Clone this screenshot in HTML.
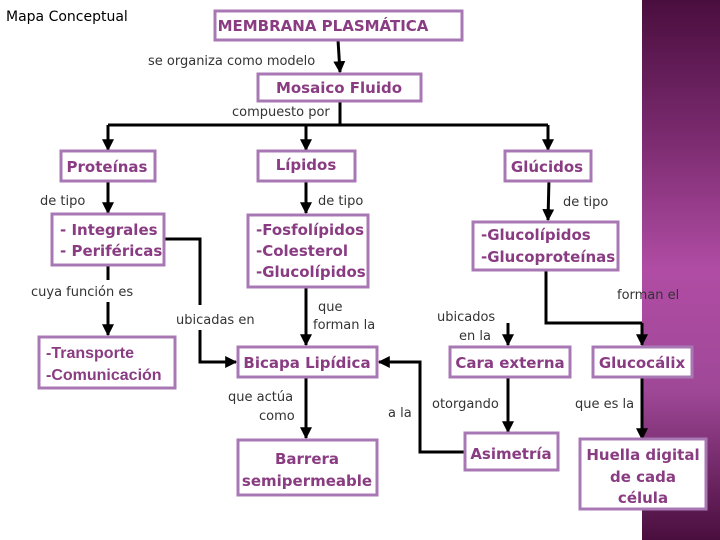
<!DOCTYPE html>
<html><head><meta charset="utf-8"><style>
html,body{margin:0;padding:0;width:720px;height:540px;overflow:hidden;background:#fff}
svg{display:block}
.b{fill:#fff;stroke:#a878b4;stroke-width:3}
.t{font-family:"DejaVu Sans","Liberation Sans",sans-serif;font-weight:bold;fill:#8a3c82;font-size:15px;text-anchor:middle}
.tl{font-family:"DejaVu Sans","Liberation Sans",sans-serif;font-weight:bold;fill:#8a3c82;font-size:15px}
.l{font-family:"DejaVu Sans","Liberation Sans",sans-serif;fill:#333;font-size:13px}
.ln{stroke:#000;stroke-width:3;fill:none}
</style></head><body>
<svg width="720" height="540" viewBox="0 0 720 540">
<defs>
<linearGradient id="g" x1="0" y1="0" x2="0" y2="1">
<stop offset="0" stop-color="#4a0e3e"/>
<stop offset="0.25" stop-color="#7a2a6e"/>
<stop offset="0.5" stop-color="#b04ca4"/>
<stop offset="0.72" stop-color="#a04898"/>
<stop offset="1" stop-color="#4a0e3e"/>
</linearGradient>
<marker id="a" viewBox="0 0 10 10" refX="9" refY="5" markerWidth="4" markerHeight="4" orient="auto"><path d="M0,0L10,5L0,10z" fill="#000"/></marker>
</defs>
<rect x="642" y="0" width="78" height="540" fill="url(#g)"/>
<text x="6" y="21" style="font-family:'DejaVu Sans','Liberation Sans',sans-serif;font-size:14px;fill:#000">Mapa Conceptual</text>

<!-- connectors -->
<g class="ln">
<path d="M338,40 L340,72" marker-end="url(#a)"/>
<path d="M340,100 V125"/>
<path d="M108,125 H548"/>
<path d="M108,125 V150" marker-end="url(#a)"/>
<path d="M306,125 V150" marker-end="url(#a)"/>
<path d="M548,125 V150" marker-end="url(#a)"/>
<path d="M108,181 V213" marker-end="url(#a)"/>
<path d="M306,181 V213" marker-end="url(#a)"/>
<path d="M549,178 L548,220" marker-end="url(#a)"/>
<path d="M164,239 H200 V305"/>
<path d="M200,330 V362 H236" marker-end="url(#a)"/>
<path d="M108,265 V280"/>
<path d="M108,302 V335" marker-end="url(#a)"/>
<path d="M306,287 V345" marker-end="url(#a)"/>
<path d="M546,270 V323 H642"/>
<path d="M508,323 V345" marker-end="url(#a)"/>
<path d="M642,323 V345" marker-end="url(#a)"/>
<path d="M306,377 V438" marker-end="url(#a)"/>
<path d="M465,452 H420 V398"/>
<path d="M420,398 V362 H379" marker-end="url(#a)"/>
<path d="M508,377 V432" marker-end="url(#a)"/>
<path d="M642,377 V439" marker-end="url(#a)"/>
</g>

<!-- boxes -->
<rect class="b" x="215" y="11" width="247" height="29"/>
<text class="t" x="323" y="31" style="font-size:15px">MEMBRANA PLASMÁTICA</text>
<rect class="b" x="258" y="74" width="163" height="27"/>
<text class="t" x="339" y="93">Mosaico Fluido</text>
<rect class="b" x="61" y="151" width="94" height="30"/>
<text class="t" x="107" y="172">Proteínas</text>
<rect class="b" x="258" y="151" width="97" height="30"/>
<text class="t" x="306" y="170">Lípidos</text>
<rect class="b" x="505" y="151" width="86" height="30"/>
<text class="t" x="547" y="172">Glúcidos</text>
<rect class="b" x="52" y="214" width="112" height="51"/>
<text class="tl" x="60" y="235">- Integrales</text>
<text class="tl" x="60" y="256">- Periféricas</text>
<rect class="b" x="248" y="215" width="120" height="72"/>
<text class="tl" x="256" y="235">-Fosfolípidos</text>
<text class="tl" x="256" y="256">-Colesterol</text>
<text class="tl" x="256" y="277">-Glucolípidos</text>
<rect class="b" x="473" y="222" width="145" height="48"/>
<text class="tl" x="481" y="240">-Glucolípidos</text>
<text class="tl" x="481" y="262">-Glucoproteínas</text>
<rect class="b" x="39" y="337" width="136" height="51"/>
<text class="tl" x="46" y="358" style="font-family:'Liberation Sans',sans-serif;font-size:16px">-Transporte</text>
<text class="tl" x="46" y="380" style="font-family:'Liberation Sans',sans-serif;font-size:16px">-Comunicación</text>
<rect class="b" x="238" y="347" width="139" height="30"/>
<text class="t" x="307" y="368">Bicapa Lipídica</text>
<rect class="b" x="450" y="347" width="120" height="30"/>
<text class="t" x="510" y="368">Cara externa</text>
<rect class="b" x="593" y="347" width="99" height="30"/>
<text class="t" x="642" y="368">Glucocálix</text>
<rect class="b" x="238" y="440" width="139" height="55"/>
<text class="t" x="307" y="464">Barrera</text>
<text class="t" x="307" y="486">semipermeable</text>
<rect class="b" x="465" y="433" width="93" height="37"/>
<text class="t" x="511" y="459">Asimetría</text>
<rect class="b" x="580" y="439" width="126" height="70"/>
<text class="t" x="643" y="460">Huella digital</text>
<text class="t" x="643" y="482">de cada</text>
<text class="t" x="643" y="503">célula</text>

<!-- labels -->
<text class="l" x="148" y="65">se organiza como modelo</text>
<text class="l" x="232" y="116">compuesto por</text>
<text class="l" x="40" y="205">de tipo</text>
<text class="l" x="318" y="205">de tipo</text>
<text class="l" x="563" y="206">de tipo</text>
<text class="l" x="31" y="296">cuya función es</text>
<text class="l" x="176" y="324">ubicadas en</text>
<text class="l" x="318" y="311">que</text>
<text class="l" x="313" y="329">forman la</text>
<text class="l" x="437" y="321">ubicados</text>
<text class="l" x="459" y="340">en la</text>
<text class="l" x="617" y="299">forman el</text>
<text class="l" x="228" y="401">que actúa</text>
<text class="l" x="259" y="420">como</text>
<text class="l" x="388" y="417">a la</text>
<text class="l" x="432" y="408">otorgando</text>
<text class="l" x="575" y="408">que es la</text>
</svg>
</body></html>
